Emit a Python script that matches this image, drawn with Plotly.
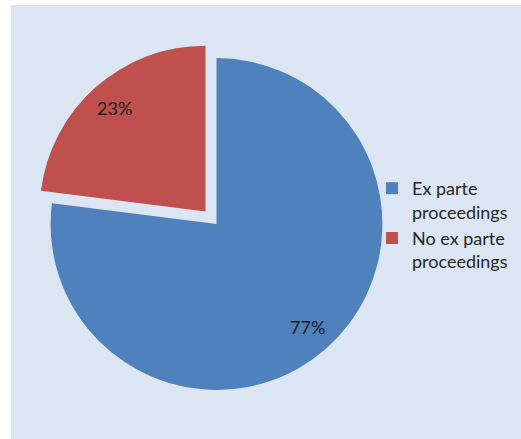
import math
import plotly.graph_objects as go

# Share of cases by type of proceeding
labels = ["Ex parte<br>proceedings", "No ex parte<br>proceedings"]
values = [77, 23]
colors = ["#4f81bd", "#c0504d"]
pulls = [0, 0.1]

W, H = 521, 439
BG = "#dce6f2"
FONT = "Lato, 'Open Sans', sans-serif"

# Pie box in pixels (square), converted to paper fractions (margins are zero)
box_cx, box_cy, box_side = 216.5, 224.0, 365.0
dom_x = [(box_cx - box_side / 2) / W, (box_cx + box_side / 2) / W]
dom_y = [1 - (box_cy + box_side / 2) / H, 1 - (box_cy - box_side / 2) / H]
radius = box_side / (2 + 2 * max(pulls))

fig = go.Figure(
    go.Pie(
        labels=labels,
        values=values,
        marker=dict(colors=colors, line=dict(width=0)),
        pull=pulls,
        sort=False,
        direction="clockwise",
        rotation=0,
        textinfo="none",
        hoverinfo="label+percent",
        domain=dict(x=dom_x, y=dom_y),
    )
)

# Percentage labels placed along each slice's mid-angle
total = sum(values)
start = 0.0
annotations = []
for v, p in zip(values, pulls):
    frac = v / total
    mid = (start + frac / 2) * 2 * math.pi
    start += frac
    dx, dy = math.sin(mid), -math.cos(mid)
    cx = box_cx + p * radius * dx
    cy = box_cy + p * radius * dy
    lx = cx + 0.83 * radius * dx
    ly = cy + 0.83 * radius * dy
    annotations.append(
        dict(
            x=lx / W, y=1 - ly / H, xref="paper", yref="paper",
            xanchor="center", yanchor="middle",
            text=f"{round(100 * frac)}%", showarrow=False,
            font=dict(family=FONT, size=18, color="#1c1c1c"),
        )
    )

fig.update_layout(
    width=W,
    height=H,
    margin=dict(l=0, r=0, t=0, b=0, autoexpand=False),
    paper_bgcolor="white",
    plot_bgcolor="white",
    showlegend=True,
    legend=dict(
        xref="paper", yref="paper",
        x=372 / W, y=1 - 170 / H,
        xanchor="left", yanchor="top",
        valign="top",
        bgcolor="rgba(0,0,0,0)",
        font=dict(family=FONT, size=18, color="#262626"),
        tracegroupgap=0,
    ),
    annotations=annotations,
    shapes=[
        dict(
            type="rect", xref="paper", yref="paper",
            x0=11 / W, x1=1, y0=0, y1=1 - 5 / H,
            fillcolor=BG, line=dict(width=0), layer="below",
        )
    ],
)

fig.write_html("out.html")
